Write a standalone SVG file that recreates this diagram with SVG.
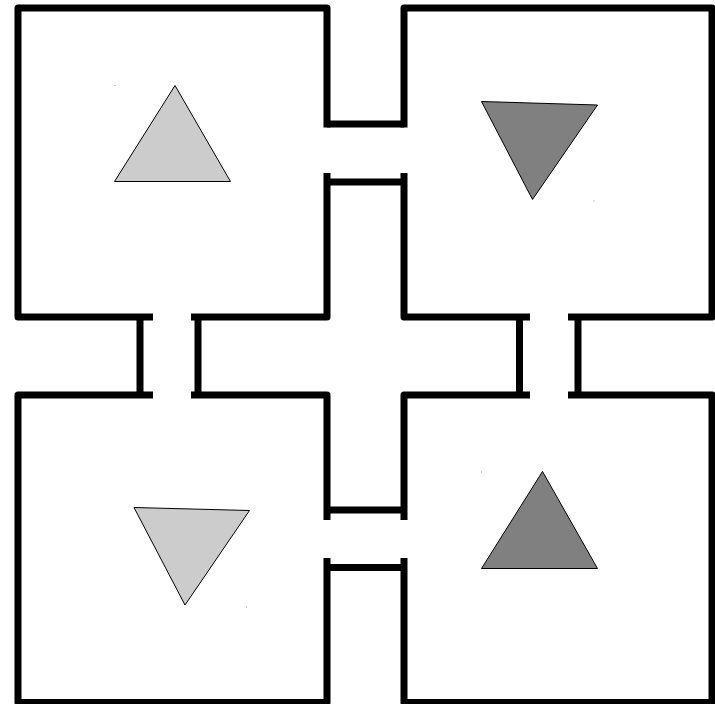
<svg xmlns="http://www.w3.org/2000/svg" width="715" height="704" viewBox="0 0 715 704">
<style>
.wall{fill:none;stroke:#000;stroke-width:7;stroke-linejoin:round;stroke-linecap:butt}
.light{fill:#cccccc;stroke:#000;stroke-width:1}
.dark{fill:#808080;stroke:#000;stroke-width:1}
.dot{fill:#999}
</style>
<rect width="715" height="704" fill="#fff"/>
<g id="room-top-left">
<path class="wall" d="M327 127.5 L327 8 L18 8 L18 317 L153 317 M191 317 L327 317 L327 173"/>
<polygon class="light" points="175,85.5 114.5,181.5 230.5,181.5"/>
<rect class="dot" x="114.5" y="85" width="1" height="1"/>
</g>
<g id="room-top-right">
<path class="wall" d="M404 127.5 L404 8 L712 8 L712 317 L568 317 M530 317 L404 317 L404 173"/>
<polygon class="dark" points="481.5,101.5 597.5,105 532.5,199.5"/>
<rect class="dot" x="593.5" y="200.5" width="1" height="1"/>
</g>
<g id="room-bottom-left">
<path class="wall" d="M153 395 L18 395 L18 702.5 L327 702.5 L327 558 M191 395 L327 395 L327 520"/>
<polygon class="light" points="134,507.5 249.5,510.5 185,605"/>
<rect class="dot" x="246" y="606.5" width="1" height="1"/>
</g>
<g id="room-bottom-right">
<path class="wall" d="M530 395 L404 395 L404 520 M568 395 L712 395 L712 702.5 L404 702.5 L404 558"/>
<polygon class="dark" points="542.5,471.5 481.5,568.5 597.5,568.5"/>
<rect class="dot" x="481" y="471.5" width="1" height="1"/>
</g>
<g id="connectors">
<path class="wall" d="M327 124 H404 M327 182 H404"/>
<path class="wall" d="M327 510 H404 M327 567.5 H404"/>
<path class="wall" d="M140 317 V395 M198 317 V395"/>
<path class="wall" d="M519.5 317 V395 M578 317 V395"/>
</g>
</svg>
